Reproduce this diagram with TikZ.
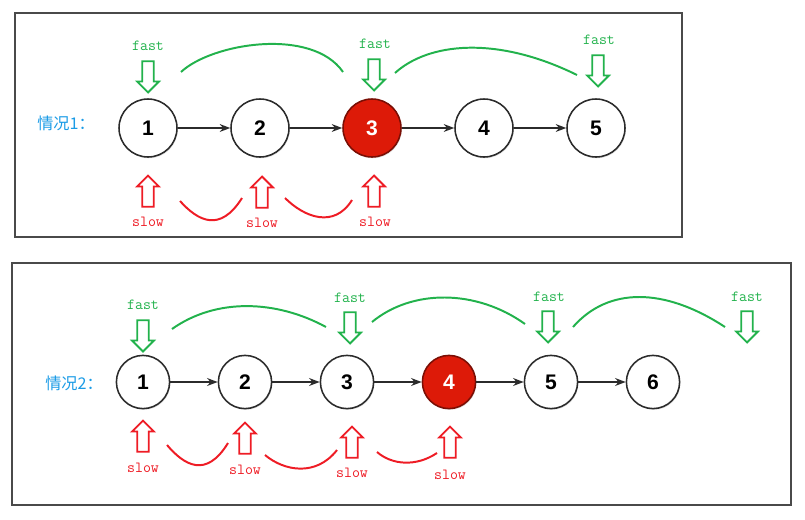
\documentclass[tikz,border=0pt]{standalone}
\usepackage{fontspec}
\setmainfont{Liberation Sans}
\newfontfamily\cjkfont{Noto Sans CJK SC}
\usetikzlibrary{arrows.meta,positioning,shapes.arrows,shadows}
\definecolor{FastGreen} {HTML}{22B24C}
\definecolor{SlowRed}   {HTML}{EE1C25}
\definecolor{HitRed}    {HTML}{DD1A08}
\definecolor{LabelBlue} {HTML}{1A9BE6}
\definecolor{FrameGray} {HTML}{4A4A4A}
\definecolor{LinkGray}  {HTML}{2B2B2B}
\tikzset{
  lnode/.style={circle,draw=LinkGray,line width=1.1pt,fill=white,
                minimum size=#1,inner sep=0pt,
                font=\fontsize{15}{15}\selectfont\bfseries,
                drop shadow={opacity=0.25,shadow xshift=0.6pt,shadow yshift=-0.9pt}},
  lnode/.default=1.45cm,
  hit/.style={fill=HitRed,draw=HitRed!55!black,text=white},
  fastarr/.style={single arrow,shape border rotate=270,draw=FastGreen,
                  line width=1.3pt,fill=white,minimum height=0.78cm,
                  minimum width=0.5cm,single arrow head extend=0.13cm,inner sep=0.12cm},
  slowarr/.style={fastarr,shape border rotate=90,draw=SlowRed},
  fasttxt/.style={font=\ttfamily\fontsize{11}{12}\selectfont,text=FastGreen,inner sep=1pt},
  slowtxt/.style={font=\ttfamily\fontsize{11}{12}\selectfont,text=SlowRed,inner sep=1pt},
  hop/.style={line width=1.4pt,color=FastGreen},
  crawl/.style={line width=1.4pt,color=SlowRed},
  link/.style={-Stealth,line width=1pt,color=LinkGray},
  frame/.style={draw=FrameGray,line width=1.2pt},
  case/.style={font=\cjkfont\fontsize{11.5}{12}\selectfont,text=LabelBlue},
}
\begin{document}
\begin{tikzpicture}
  \useasboundingbox (0,0) rectangle (20.125,12.975);

  % case 1: odd length
  \draw[frame] (0.375,7.05) rectangle (17.05,12.65);
  \node[case] (case1) at (1.65,9.9) {情况1：};

  \node[lnode]     (a1) at (3.7,9.775)  {1};
  \node[lnode]     (a2) at (6.5,9.775)  {2};
  \node[lnode,hit] (a3) at (9.3,9.775)  {3};
  \node[lnode]     (a4) at (12.1,9.775) {4};
  \node[lnode]     (a5) at (14.9,9.775) {5};

  \draw[link] (a1) -- (a2);
  \draw[link] (a2) -- (a3);
  \draw[link] (a3) -- (a4);
  \draw[link] (a4) -- (a5);

  \node[fastarr] (af1) at (3.7,11.125)  {};
  \node[fastarr] (af3) at (9.35,11.175) {};
  \node[fastarr] (af5) at (14.95,11.275) {};
  \node[fasttxt] (afl1) at (3.7,11.825)  {fast};
  \node[fasttxt] (afl3) at (9.375,11.875) {fast};
  \node[fasttxt] (afl5) at (14.975,11.975) {fast};

  \node[slowarr] (as1) at (3.7,8.125)  {};
  \node[slowarr] (as2) at (6.55,8.1)   {};
  \node[slowarr] (as3) at (9.35,8.125) {};
  \node[slowtxt] (asl1) at (3.7,7.425)  {slow};
  \node[slowtxt] (asl2) at (6.55,7.4)   {slow};
  \node[slowtxt] (asl3) at (9.375,7.425) {slow};

  \draw[hop] (4.525,11.175) .. controls (5.3,11.9) and (7.8,12.3) .. (8.575,11.175);
  \draw[hop] (9.875,11.15) .. controls (10.7,11.9) and (12.4,12.1) .. (14.425,11.1);
  \draw[crawl] (4.5,7.95) .. controls (4.95,7.45) and (5.5,7.15) .. (6.05,8.025);
  \draw[crawl] (7.125,8.025) .. controls (7.6,7.55) and (8.35,7.25) .. (8.8,7.975);

  % case 2: even length
  \draw[frame] (0.3,0.35) rectangle (19.775,6.4);
  \node[case] (case2) at (1.85,3.4) {情况2：};

  \node[lnode=1.33cm]     (b1) at (3.575,3.425)  {1};
  \node[lnode=1.33cm]     (b2) at (6.125,3.425)  {2};
  \node[lnode=1.33cm]     (b3) at (8.675,3.425)  {3};
  \node[lnode=1.33cm,hit] (b4) at (11.225,3.425) {4};
  \node[lnode=1.33cm]     (b5) at (13.775,3.425) {5};
  \node[lnode=1.33cm]     (b6) at (16.325,3.425) {6};

  \draw[link] (b1) -- (b2);
  \draw[link] (b2) -- (b3);
  \draw[link] (b3) -- (b4);
  \draw[link] (b4) -- (b5);
  \draw[link] (b5) -- (b6);

  \node[fastarr] (bf1) at (3.575,4.65)  {};
  \node[fastarr] (bf3) at (8.75,4.85)   {};
  \node[fastarr] (bf5) at (13.7,4.875)  {};
  \node[fastarr] (bf7) at (18.675,4.875) {};
  \node[fasttxt] (bfl1) at (3.575,5.35)  {fast};
  \node[fasttxt] (bfl3) at (8.75,5.525)  {fast};
  \node[fasttxt] (bfl5) at (13.725,5.55) {fast};
  \node[fasttxt] (bfl7) at (18.675,5.55) {fast};

  \node[slowarr] (bs1) at (3.575,2.0)  {};
  \node[slowarr] (bs2) at (6.125,1.95) {};
  \node[slowarr] (bs3) at (8.8,1.85)   {};
  \node[slowarr] (bs4) at (11.25,1.85) {};
  \node[slowtxt] (bsl1) at (3.575,1.275) {slow};
  \node[slowtxt] (bsl2) at (6.125,1.225) {slow};
  \node[slowtxt] (bsl3) at (8.8,1.15)    {slow};
  \node[slowtxt] (bsl4) at (11.25,1.1)   {slow};

  \draw[hop] (4.3,4.75) .. controls (5.4,5.53) and (6.9,5.48) .. (8.15,4.8);
  \draw[hop] (9.3,4.925) .. controls (10.3,5.75) and (11.9,5.75) .. (13.125,4.875);
  \draw[hop] (14.325,4.8) .. controls (15.2,5.8) and (16.6,5.8) .. (18.125,4.8);
  \draw[crawl] (4.175,1.85) .. controls (4.6,1.35) and (5.15,1.0) .. (5.7,1.9);
  \draw[crawl] (6.625,1.6) .. controls (7.1,1.2) and (7.9,1.05) .. (8.425,1.725);
  \draw[crawl] (9.425,1.675) .. controls (9.8,1.35) and (10.4,1.3) .. (10.925,1.65);

\end{tikzpicture}
\end{document}
